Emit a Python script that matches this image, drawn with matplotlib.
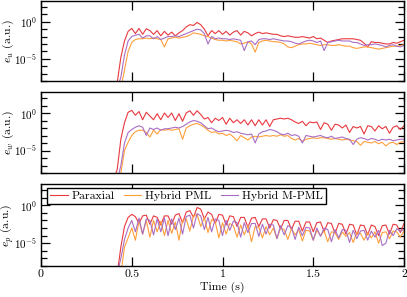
import numpy as np
import matplotlib
matplotlib.use("Agg")
import matplotlib.pyplot as plt
from matplotlib import ticker

plt.rcParams['font.family'] = 'serif'
plt.rcParams['font.serif'] = ['cmr10', 'DejaVu Serif']
plt.rcParams['mathtext.fontset'] = 'cm'
plt.rcParams['axes.formatter.use_mathtext'] = True
plt.rcParams['axes.unicode_minus'] = False
plt.rcParams['font.size'] = 8.5

# time grid (s), 0.40 .. 2.00 every 0.02 s
time = np.round(np.arange(0.40, 2.001, 0.02), 2)

series_names = ['Paraxial', 'Hybrid PML', 'Hybrid M-PML']
colors = ['#e8393f', '#ff9f3a', '#a86ec4']

# log10 of the errors
u_paraxial = [-9, -8.2, -4.8, -2.6, -1.3, -0.9, -1.6, -0.9, -1.7, -0.95,
              -1.2, -1.7, -1.2, -1.9, -1.3, -1.8, -1.4, -1.9, -1.5, -1.2,
              -0.7, -0.4, -0.5, -0.1, -0.4, -1.0, -1.9, -1.2, -1.6, -1.2,
              -1.7, -1.3, -1.8, -1.4, -1.2, -1.8, -1.3, -1.5, -1.9, -1.6,
              -1.4, -1.6, -1.5, -1.6, -1.7, -1.7, -1.9, -2.0, -1.9, -2.0,
              -2.1, -2.1, -2.0, -2.1, -2.2, -2.0, -2.3, -2.2, -2.5, -2.8,
              -2.6, -2.5, -2.4, -2.3, -2.3, -2.3, -2.3, -2.4, -2.5, -2.9,
              -3.4, -2.7, -2.8, -2.8, -2.9, -3.0, -3.0, -2.8, -2.9, -2.7, -2.5]
u_pml = [-9, -9, -9, -6.5, -4.0, -2.8, -2.4, -2.3, -2.3, -2.2,
         -2.3, -2.2, -2.3, -2.4, -3.4, -2.3, -2.2, -2.1, -2.2, -2.1,
         -2.0, -1.8, -1.5, -1.6, -1.7, -1.9, -2.0, -2.2, -2.4, -2.5,
         -2.5, -2.6, -2.5, -2.6, -2.7, -3.0, -2.9, -2.7, -3.0, -4.1,
         -2.8, -2.6, -2.5, -2.6, -2.7, -2.7, -2.8, -3.0, -3.4, -3.5,
         -3.3, -3.1, -3.0, -3.0, -2.9, -3.0, -3.1, -3.2, -3.1, -3.1,
         -3.2, -3.2, -3.1, -3.2, -3.3, -3.3, -3.5, -3.6, -3.5, -3.4,
         -3.4, -3.5, -3.6, -3.7, -3.6, -3.5, -3.4, -3.3, -3.3, -3.2, -3.1]
u_mpml = [-9, -9, -7.5, -4.5, -2.6, -2.0, -1.8, -1.7, -2.2, -1.9,
          -1.9, -2.3, -2.0, -2.4, -2.2, -2.0, -2.0, -1.9, -2.0, -1.8,
          -1.6, -1.4, -1.2, -1.0, -1.1, -1.6, -3.0, -2.0, -2.3, -2.2,
          -2.3, -2.3, -2.4, -2.3, -2.4, -2.5, -3.9, -2.7, -2.6, -3.1,
          -2.4, -2.3, -2.3, -2.4, -2.3, -2.4, -2.5, -2.6, -2.6, -2.7,
          -2.9, -3.0, -2.8, -2.6, -2.5, -2.6, -2.8, -2.6, -3.9, -2.8,
          -2.7, -2.6, -2.5, -2.6, -2.6, -2.6, -2.8, -2.8, -3.0, -3.2,
          -3.1, -3.1, -3.0, -3.1, -3.2, -3.4, -3.2, -3.1, -3.3, -3.4, -3.2]

w_paraxial = [-9, -7.5, -3.5, -1.3, 0.1, 0.35, -0.3, 0.2, -0.9, 0.1,
              -0.4, -0.9, -0.1, -0.9, 0.0, -0.6, 0.0, -1.0, -0.1, -1.1,
              0.0, 0.3, -0.3, 0.3, -0.2, -0.8, -0.6, -1.3, -0.7, -1.0,
              -0.6, -1.5, -0.7, -1.3, -0.9, -1.4, -0.9, -1.6, -0.9, -1.7,
              -0.9, -1.6, -0.9, -1.8, -0.9, -0.8, -0.7, -0.8, -0.7, -0.9,
              -1.2, -1.4, -1.1, -1.7, -1.2, -1.3, -1.2, -2.2, -1.3, -1.5,
              -2.3, -1.5, -1.6, -2.0, -1.6, -2.6, -1.8, -2.0, -1.8, -2.8,
              -1.7, -1.8, -2.4, -1.7, -2.1, -1.8, -2.7, -1.9, -1.7, -2.2, -1.7]
w_pml = [-9, -9, -8.0, -5.0, -3.9, -3.0, -2.5, -2.3, -2.3, -2.6,
         -3.2, -2.3, -2.8, -2.2, -2.3, -2.2, -2.3, -2.2, -2.1, -3.5,
         -2.0, -1.7, -1.5, -1.4, -1.6, -1.9, -2.3, -2.6, -2.5, -2.8,
         -2.7, -3.0, -2.8, -3.2, -3.7, -3.0, -3.3, -3.6, -3.2, -3.1,
         -3.2, -3.1, -3.0, -3.1, -3.0, -3.1, -2.9, -3.1, -3.0, -3.4,
         -3.6, -3.4, -3.8, -3.5, -3.4, -3.3, -3.4, -3.3, -3.3, -3.4,
         -3.5, -3.4, -3.5, -3.6, -3.5, -3.6, -3.7, -3.8, -4.3, -3.8,
         -3.9, -4.0, -3.8, -4.1, -3.9, -4.4, -4.0, -3.9, -4.2, -3.9, -3.8]
w_mpml = [-9, -9, -7.0, -4.0, -2.6, -2.2, -1.9, -1.7, -1.9, -3.0,
          -2.0, -2.2, -2.0, -2.3, -2.1, -2.1, -2.0, -1.9, -2.0, -1.8,
          -1.5, -1.2, -1.0, -1.1, -1.3, -1.7, -2.1, -2.0, -2.3, -2.5,
          -2.4, -2.3, -2.4, -2.6, -2.5, -2.7, -2.8, -2.9, -2.8, -4.0,
          -2.8, -2.5, -2.4, -2.2, -2.3, -2.5, -2.8, -2.9, -2.7, -3.0,
          -2.9, -3.1, -4.0, -3.0, -3.1, -3.2, -3.1, -3.0, -3.2, -3.3,
          -3.1, -3.4, -3.3, -3.2, -3.4, -3.5, -4.2, -3.5, -3.3, -3.4,
          -3.6, -3.4, -3.5, -3.7, -3.5, -3.6, -3.5, -3.7, -3.6, -3.5, -3.5]

p_paraxial = [-9, -9, -5.5, -2.8, -1.6, -1.2, -1.5, -2.4, -1.4, -1.3,
              -2.5, -1.4, -1.6, -2.6, -1.4, -1.4, -2.5, -1.3, -1.1, -2.3,
              -0.9, -0.7, -1.6, -0.3, -0.5, -1.8, -0.9, -1.2, -2.4, -1.2,
              -1.3, -2.6, -1.4, -1.5, -2.8, -1.6, -1.6, -2.9, -1.7, -1.6,
              -2.8, -1.8, -1.8, -3.0, -1.9, -2.0, -3.1, -2.0, -2.0, -3.2,
              -2.1, -2.1, -3.4, -2.2, -2.2, -3.5, -2.3, -2.2, -3.5, -2.3,
              -2.4, -3.7, -2.4, -2.5, -3.8, -2.5, -2.6, -3.9, -2.6, -2.7,
              -3.9, -2.6, -2.8, -4.0, -2.7, -2.6, -3.8, -2.5, -2.6, -3.6, -2.4]
p_pml = [-9, -9, -9, -5.5, -4.3, -3.0, -4.6, -2.1, -3.8, -2.0,
         -4.2, -2.0, -3.5, -2.1, -4.0, -2.0, -3.7, -2.2, -4.6, -2.0,
         -1.8, -3.4, -1.4, -1.2, -2.8, -1.6, -3.6, -1.9, -2.2, -4.3,
         -2.3, -3.8, -2.4, -2.7, -4.2, -2.6, -3.9, -2.7, -4.8, -2.8,
         -2.9, -4.3, -2.8, -3.9, -3.0, -4.4, -3.0, -3.2, -4.5, -3.1,
         -3.9, -3.2, -4.7, -3.3, -3.4, -4.6, -3.3, -4.0, -3.4, -4.8,
         -3.5, -3.6, -4.5, -3.5, -4.1, -3.6, -4.9, -3.6, -3.7, -4.6,
         -3.6, -4.3, -3.5, -5.0, -3.6, -3.5, -4.4, -3.4, -3.5, -4.2, -3.4]
p_mpml = [-9, -9, -7.0, -4.5, -3.0, -2.0, -3.5, -1.7, -3.8, -1.8,
          -2.0, -3.9, -1.8, -3.5, -1.7, -4.0, -1.8, -3.2, -1.7, -3.8,
          -1.5, -1.3, -3.0, -1.1, -1.4, -3.2, -1.6, -3.5, -1.8, -2.0,
          -4.0, -2.0, -3.3, -2.1, -2.3, -4.2, -2.3, -3.6, -2.4, -2.4,
          -4.1, -2.5, -3.8, -2.5, -2.6, -4.4, -2.7, -3.9, -2.7, -2.9,
          -4.5, -2.9, -4.0, -2.9, -3.0, -4.6, -3.0, -4.1, -3.0, -3.2,
          -4.8, -3.2, -4.3, -3.2, -3.3, -4.9, -3.3, -4.4, -3.4, -3.3,
          -4.6, -3.4, -4.2, -3.3, -5.3, -5.0, -3.3, -4.0, -3.1, -3.4, -3.2]

panels = [
    (r'$e_u$ (a.u.)', [u_paraxial, u_pml, u_mpml]),
    (r'$e_w$ (a.u.)', [w_paraxial, w_pml, w_mpml]),
    (r'$e_p$ (a.u.)', [p_paraxial, p_pml, p_mpml]),
]

fig = plt.figure(figsize=(4.07, 2.97), dpi=100)
W, H = 407, 297
boxes = [(1, 81), (92, 173), (184, 266)]
axes = []
for top, bot in boxes:
    ax = fig.add_axes([41 / W, 1 - bot / H, 363 / W, (bot - top) / H])
    axes.append(ax)

for ax, (ylab, data) in zip(axes, panels):
    for vals, col, name in zip(data, colors, series_names):
        ax.plot(time, 10.0 ** np.array(vals), color=col, lw=0.8, label=name)
    ax.set_yscale('log')
    ax.set_xlim(0, 2)
    ax.set_ylim(1e-8, 10 ** 2.8)
    ax.yaxis.set_major_locator(ticker.FixedLocator([1e-5, 1e0]))
    ax.yaxis.set_minor_locator(ticker.FixedLocator([10.0 ** k for k in range(-8, 3)]))
    ax.yaxis.set_minor_formatter(ticker.NullFormatter())
    ax.set_xticks([0, 0.5, 1, 1.5, 2])
    ax.tick_params(which='both', direction='in', top=True, right=True, width=0.9)
    ax.tick_params(which='major', length=6.5, pad=2.5)
    ax.tick_params(axis='y', labelsize=8)
    ax.tick_params(which='minor', length=4)
    ax.set_ylabel(ylab)
    ax.yaxis.set_label_coords(-0.068, 0.5)
    for s in ax.spines.values():
        s.set_linewidth(1.0)

for ax in axes[:2]:
    ax.set_xticklabels([])
axes[2].set_xticklabels(['0', '0.5', '1', '1.5', '2'])
axes[2].set_xlabel('Time (s)', labelpad=2)

leg = axes[2].legend(loc='upper left', bbox_to_anchor=(0.0165, 0.951), borderaxespad=0,
                     ncol=3, handlelength=1.5, handletextpad=0.3, columnspacing=0.8,
                     borderpad=0.25, fancybox=False, framealpha=1, edgecolor='black')
leg.get_frame().set_linewidth(1.0)

fig.savefig('out.png', dpi=100)
